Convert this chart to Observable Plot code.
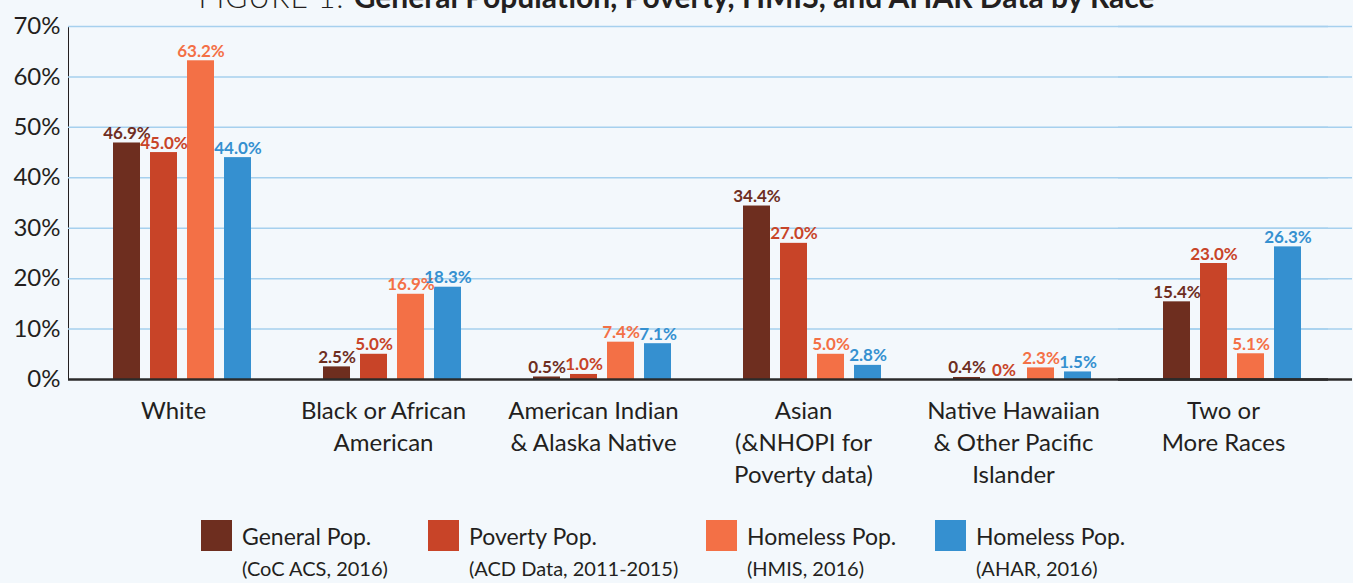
<!DOCTYPE html>
<html><head><meta charset="utf-8">
<script src="https://cdn.jsdelivr.net/npm/d3@7"></script>
<script src="https://cdn.jsdelivr.net/npm/@observablehq/plot@0.6"></script>
<style>
html,body{margin:0;padding:0;background:#f3f8fc;overflow:hidden}
body{width:1353px;height:583px;position:relative;font-family:Lato,"Open Sans",sans-serif;color:#231f20}
#title{position:absolute;left:0;width:1353px;top:-19px;text-align:center;font-size:30px;line-height:30px;white-space:nowrap;z-index:2}
#title .light{font-weight:300;letter-spacing:1px}
#title b{font-weight:700}
#chart{position:absolute;left:0;top:0}
#legend{position:absolute;left:0;top:520px;width:1353px;height:63px}
.item{position:absolute;top:0;display:flex;align-items:flex-start}
.sw{width:31px;height:31px;margin-right:10px;flex:none}
.l1{font-size:23px;line-height:32px;white-space:nowrap}
.l2{font-size:20px;line-height:32px;white-space:nowrap}
</style></head><body>
<div id="title"><span class="light">FIGURE 1: </span><b>General Population, Poverty, HMIS, and AHAR Data by Race</b></div>
<div id="chart"></div>
<div id="legend"></div>
<script>
const groups = [
  "White",
  "Black or African\nAmerican",
  "American Indian\n& Alaska Native",
  "Asian\n(&NHOPI for\nPoverty data)",
  "Native Hawaiian\n& Other Pacific\nIslander",
  "Two or\nMore Races"
];
const seriesNames = ["General Pop.", "Poverty Pop.", "Homeless Pop. (HMIS)", "Homeless Pop. (AHAR)"];
const legendTitles = ["General Pop.", "Poverty Pop.", "Homeless Pop.", "Homeless Pop."];
const legendNotes = ["(CoC ACS, 2016)", "(ACD Data, 2011-2015)", "(HMIS, 2016)", "(AHAR, 2016)"];
const seriesColors = ["#6e2e1f", "#c84428", "#f37046", "#3590d0"];
const generalPop   = [46.9, 2.5, 0.5, 34.4, 0.4, 15.4];
const povertyPop   = [45.0, 5.0, 1.0, 27.0, 0, 23.0];
const homelessHmis = [63.2, 16.9, 7.4, 5.0, 2.3, 5.1];
const homelessAhar = [44.0, 18.3, 7.1, 2.8, 1.5, 26.3];
const yTicks = [0, 10, 20, 30, 40, 50, 60, 70];

const seriesValues = [generalPop, povertyPop, homelessHmis, homelessAhar];
const rows = [];
groups.forEach((g, i) => seriesValues.forEach((arr, j) => rows.push({group: g, series: seriesNames[j], value: arr[i]})));
const fmt = v => v === 0 ? "0%" : v.toFixed(1) + "%";
const lastGroup = groups[groups.length - 1];
const gridTicks = yTicks.filter(d => d > 0);

const plot = Plot.plot({
  width: 1353, height: 505,
  marginTop: 26, marginBottom: 126, marginLeft: 66, marginRight: 24,
  style: {background: "transparent", fontFamily: "Lato, sans-serif", fontSize: "24px", color: "#231f20"},
  fx: {domain: groups, padding: 0, label: null},
  x: {domain: seriesNames, paddingInner: 0.257, paddingOuter: 0.92, align: 0.63, axis: null},
  y: {domain: [0, 70], ticks: yTicks, tickSize: 0, tickPadding: 8, tickFormat: d => d + "%", label: null, line: true},
  color: {domain: seriesNames, range: seriesColors},
  marks: [
    Plot.ruleY(gridTicks, {stroke: "#a6d0ee", strokeWidth: 1.5}),
    Plot.ruleY(gridTicks, {fx: () => lastGroup, stroke: "#a6d0ee", strokeWidth: 1.5, insetRight: -24}),
    Plot.barY(rows, {fx: "group", x: "series", y: "value", fill: "series"}),
    Plot.text(rows, {fx: "group", x: "series", y: "value", text: d => fmt(d.value), fill: "series",
      lineAnchor: "bottom", dy: -4, fontWeight: "bold", fontSize: 17, letterSpacing: "-1.5px"}),
    Plot.ruleY([0], {stroke: "#2b2b2b", strokeWidth: 2.5}),
    Plot.ruleY([0], {fx: () => lastGroup, stroke: "#2b2b2b", strokeWidth: 2.5, insetRight: -24}),
    Plot.axisFx({anchor: "bottom", tickSize: 0, tickPadding: 17, lineHeight: 1.33, fontSize: 24, label: null})
  ]
});
document.getElementById("chart").appendChild(plot);

const legendLeft = [201, 428, 706, 935];
const legend = document.getElementById("legend");
seriesNames.forEach((s, i) => {
  const item = document.createElement("div");
  item.className = "item";
  item.style.left = legendLeft[i] + "px";
  item.innerHTML = `<div class="sw" style="background:${seriesColors[i]}"></div><div><div class="l1">${legendTitles[i]}</div><div class="l2">${legendNotes[i]}</div></div>`;
  legend.appendChild(item);
});
</script>
</body></html>
